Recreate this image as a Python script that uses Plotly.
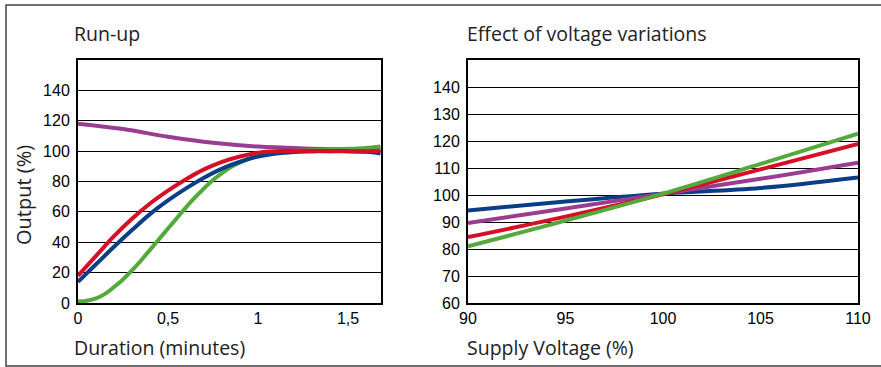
import plotly.graph_objects as go

# Run-up curves (output % vs duration in minutes)
red_x = [0, 0.1, 0.2, 0.3, 0.4, 0.5, 0.6, 0.7, 0.8, 0.9, 1.0, 1.1, 1.2, 1.3, 1.4, 1.5, 1.6, 1.68]
red_y = [18, 31, 44, 55.5, 65.5, 74, 81.5, 88, 93, 96.5, 99, 100, 100, 100, 100, 100, 100, 100]
blue_x = [0, 0.1, 0.2, 0.3, 0.4, 0.5, 0.6, 0.7, 0.8, 0.9, 1.0, 1.1, 1.2, 1.3, 1.4, 1.5, 1.6, 1.68]
blue_y = [14, 25.5, 37, 48, 58.5, 67.5, 75.5, 82.5, 88.5, 93, 96.5, 98.5, 99.5, 100, 100, 100, 99.5, 98.5]
green_x = [0, 0.05, 0.1, 0.15, 0.2, 0.25, 0.3, 0.35, 0.4, 0.45, 0.5, 0.55, 0.6, 0.65, 0.7,
           0.75, 0.8, 0.85, 0.9, 0.95, 1.0, 1.1, 1.2, 1.3, 1.4, 1.5, 1.6, 1.68]
green_y = [1, 1.5, 3, 6, 10.5, 15.5, 21.5, 28, 35, 42, 49, 56, 63, 69.5, 75.5,
           81, 85.5, 89.5, 92.5, 95, 96.8, 98.8, 100, 100.5, 101, 101.5, 102, 103]
purple_x = [0, 0.25, 0.5, 0.75, 1.0, 1.25, 1.5, 1.68]
purple_y = [118, 114.5, 109.5, 105.5, 103, 101.8, 101.2, 101]

# Effect of voltage variations (output % vs supply voltage %)
volt_x = [90, 95, 100, 105, 110]
volt_blue = [94.3, 97.6, 100.5, 102.6, 106.5]
volt_purple = [89.6, 95, 100.5, 106, 112]
volt_red = [84.4, 92, 100.3, 109.5, 118.9]
volt_green = [81, 90.5, 100.5, 111.5, 122.7]

run_ticks = [0, 0.5, 1, 1.5]
run_tick_text = ["0", "0,5", "1", "1,5"]

RED = "#d50f25"
BLUE = "#0b3e87"
GREEN = "#54a93b"
PURPLE = "#9a3c91"

W, H = 881, 367
TEXT_FONT = "Open Sans, Noto Sans, sans-serif"
TICK_FONT = "Liberation Sans, Arial, sans-serif"


def px(x):
    return x / W


def py(y):
    return 1 - y / H


fig = go.Figure()

series_left = [(purple_x, purple_y, PURPLE), (green_x, green_y, GREEN),
               (blue_x, blue_y, BLUE), (red_x, red_y, RED)]
for xs, ys, col in series_left:
    fig.add_trace(go.Scatter(x=xs, y=ys, mode="lines", line=dict(color=col, width=4, shape="spline"),
                             showlegend=False, xaxis="x", yaxis="y"))

series_right = [(volt_blue, BLUE), (volt_purple, PURPLE), (volt_red, RED), (volt_green, GREEN)]
for ys, col in series_right:
    fig.add_trace(go.Scatter(x=volt_x, y=ys, mode="lines", line=dict(color=col, width=4, shape="spline"),
                             showlegend=False, xaxis="x2", yaxis="y2"))

axis_common = dict(showline=True, mirror=True, linecolor="black", linewidth=2,
                   gridcolor="black", gridwidth=1.2, zeroline=False, automargin=False,
                   ticks="", tickfont=dict(family=TICK_FONT, size=16, color="black"),
                   fixedrange=True)

fig.update_layout(
    width=W, height=H,
    margin=dict(l=0, r=0, t=0, b=0),
    paper_bgcolor="white", plot_bgcolor="white",
    xaxis=dict(domain=[px(78), px(381)], range=[0, 1.683], tickvals=run_ticks, ticktext=run_tick_text,
               showgrid=False, anchor="y", **axis_common),
    yaxis=dict(domain=[py(303), py(60)], range=[0, 160], tickvals=[0, 20, 40, 60, 80, 100, 120, 140],
               showgrid=True, anchor="x", ticklabelstandoff=3, **axis_common),
    xaxis2=dict(domain=[px(468), px(858)], range=[90, 110], tickvals=[90, 95, 100, 105, 110],
                showgrid=False, anchor="y2", **axis_common),
    yaxis2=dict(domain=[py(303), py(60)], range=[60, 150], tickvals=[60, 70, 80, 90, 100, 110, 120, 130, 140],
                showgrid=True, anchor="x2", ticklabelstandoff=3, **axis_common),
)

# outer frame (right edge falls outside the picture)
fig.add_shape(type="rect", xref="paper", yref="paper", x0=px(6), x1=px(900), y0=py(366), y1=py(5),
              line=dict(color="#444", width=1.5), layer="below")

labels = [
    ("Run-up", 71.5, 33),
    ("Duration (minutes)", 71.5, 347),
    ("Effect of voltage variations", 465, 33),
    ("Supply Voltage (%)", 465, 347),
]
for text, x, y in labels:
    fig.add_annotation(text=text, xref="paper", yref="paper", x=px(x), y=py(y),
                       xanchor="left", yanchor="middle", showarrow=False,
                       font=dict(family=TEXT_FONT, size=19.5, color="#222"))

fig.add_annotation(text="Output (%)", xref="paper", yref="paper", x=px(23), y=py(195),
                   xanchor="center", yanchor="middle", textangle=-90, showarrow=False,
                   font=dict(family=TEXT_FONT, size=20, color="#222"))

# remove the default page margin so the figure sits at the window origin
fig.write_html("out.html", config={"displayModeBar": False},
               post_script="document.body.style.margin='0';")
